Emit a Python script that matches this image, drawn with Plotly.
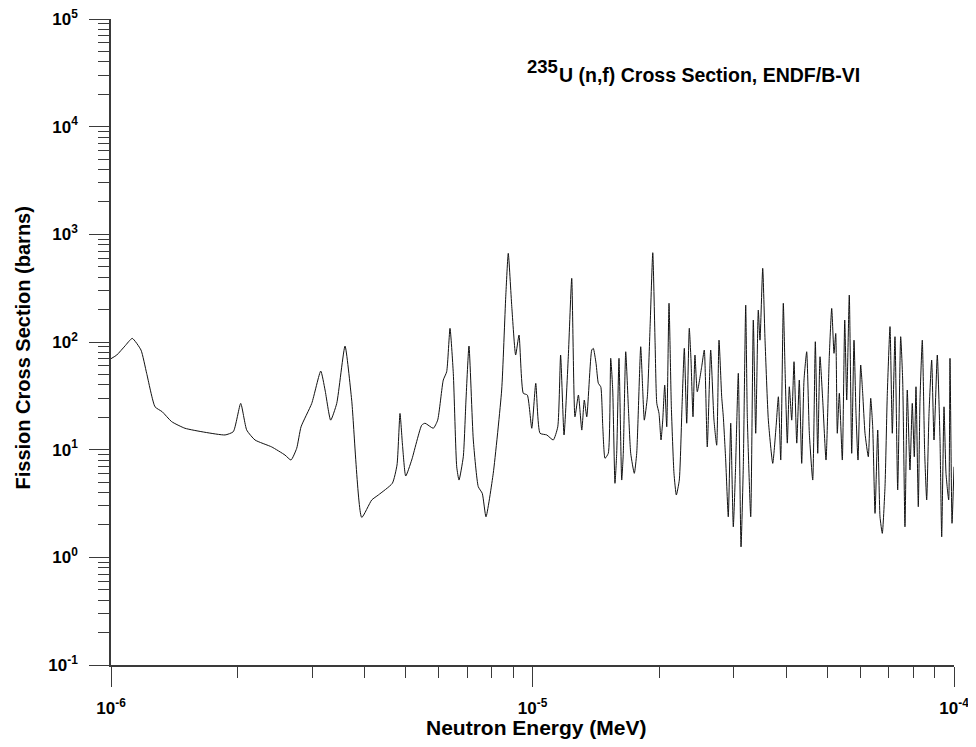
import numpy as np
import plotly.graph_objects as go

# Neutron energy (eV; axis is in MeV)
energy_ev = [
    1.000, 1.032, 1.079, 1.123, 1.178, 1.215, 1.272, 1.323, 1.393, 1.498,
    1.671, 1.865, 1.951, 2.031, 2.099, 2.196, 2.406, 2.587, 2.673, 2.758,
    2.824, 2.994, 3.145, 3.220, 3.320, 3.432, 3.591, 3.724, 3.934, 4.155,
    4.307, 4.650, 4.770, 4.849, 4.916, 5.003, 5.169, 5.460, 5.559, 5.816,
    5.957, 6.142, 6.257, 6.372, 6.488, 6.610, 6.693, 6.852, 6.953, 7.068,
    7.237, 7.436, 7.600, 7.756, 8.07, 8.45, 8.64, 8.76, 8.93, 9.12,
    9.29, 9.51, 9.72, 9.96, 10.18, 10.42, 10.81, 11.20, 11.48, 11.66,
    11.88, 12.16, 12.39, 12.61, 12.85, 13.09, 13.27, 13.45, 13.82, 13.94,
    14.15, 14.33, 14.52, 14.68, 14.86, 15.13, 15.33, 15.50, 15.69, 15.84,
    16.04, 16.28, 16.42, 16.64, 16.88, 17.10, 17.44, 17.67, 18.06, 18.26,
    18.42, 18.73, 19.01, 19.29, 19.53, 19.72, 19.96, 20.18, 20.37, 20.59,
    20.82, 21.08, 21.35, 21.66, 21.94, 22.30, 22.63, 22.92, 23.22, 23.55,
    23.77, 24.03, 24.29, 24.60, 25.20, 25.56, 25.98, 26.47, 26.95, 27.35,
    27.70, 28.11, 28.36, 28.73, 29.14, 29.53, 29.95, 30.31, 30.78, 31.24,
    31.63, 32.05, 32.33, 32.94, 33.41, 33.85, 34.33, 34.65, 35.17, 35.62,
    36.27, 37.15, 37.83, 38.31, 38.81, 39.36, 39.72, 40.23, 40.67, 41.21,
    41.73, 42.36, 42.95, 43.52, 44.07, 44.72, 45.37, 46.22, 46.88, 47.50,
    48.10, 48.81, 49.70, 50.61, 51.27, 51.92, 52.41, 52.86, 53.45, 54.33,
    55.05, 55.65, 56.44, 57.19, 57.91, 58.55, 59.19, 60.07, 60.73, 61.50,
    62.62, 63.45, 64.14, 64.96, 65.92, 66.75, 67.59, 68.60, 69.47, 70.50,
    71.39, 72.44, 73.52, 74.73, 75.55, 76.50, 77.47, 78.62, 79.62, 80.50,
    81.25, 82.28, 83.05, 84.10, 85.21, 86.14, 87.24, 88.52, 89.65, 91.28,
    92.64, 93.50, 94.69, 95.72, 97.14, 97.84, 98.92, 100.0,
]

# Fission cross section (barns)
sigma_b = [
    70, 75.7, 91.7, 108, 84.2, 51.2, 25.0, 22.5, 18.2, 15.8,
    14.5, 13.7, 14.7, 26.9, 15.2, 12.3, 10.6, 8.91, 8.01, 10.3,
    16.3, 26.9, 53.7, 35.8, 18.8, 26.9, 91.7, 28.9, 2.35, 3.41,
    3.79, 4.87, 7.2, 21.7, 11.0, 5.69, 8.01, 16.9, 17.6, 15.8,
    18.8, 44.3, 52.9, 134, 51.2, 6.94, 5.22, 8.6, 28.9, 91.7,
    12.3, 4.53, 3.93, 2.38, 6.03, 35.8, 263, 666, 213, 75.7,
    116, 33.4, 32.2, 15.8, 41.3, 14.2, 13.7, 12.3, 16.3, 75.7,
    13.7, 73, 390, 20.2, 32.2, 15.2, 28.9, 20.2, 84.2, 87.3,
    63.4, 41.3, 38.4, 16.3, 8.31, 9.25, 70.5, 35.8, 4.87, 9.25,
    70.5, 5.22, 9.25, 81.2, 25.0, 9.25, 6.03, 9.25, 90.4, 35.8,
    18.8, 31.0, 139, 675, 104, 26.9, 21.7, 12.3, 18.8, 39.8,
    16.3, 229, 25.0, 6.03, 3.79, 5.22, 25.0, 87.3, 17.6, 134,
    68.0, 20.2, 75.7, 34.5, 58.9, 84.2, 10.6, 84.2, 18.8, 11.0,
    104, 31.0, 20.2, 8.01, 2.38, 17.6, 1.92, 6.47, 51.2, 1.25,
    6.94, 220, 20.2, 2.38, 160, 14.2, 198, 104, 483, 104,
    18.8, 7.46, 16.3, 31.0, 8.01, 229, 58.9, 11.5, 38.4, 18.8,
    65.6, 11.5, 44.3, 7.46, 44.3, 81.2, 14.2, 5.22, 100.6, 9.25,
    73, 28.9, 8.01, 75.7, 205, 78.5, 120, 14.2, 33.4, 8.01,
    160, 28.9, 273, 9.25, 104, 21.7, 8.01, 61.1, 33.4, 14.2,
    8.6, 30.0, 16.3, 2.56, 15.2, 2.38, 1.67, 4.53, 33.4, 139,
    14.2, 112, 4.22, 112, 44.3, 1.92, 35.8, 6.47, 26.9, 8.6,
    38.4, 2.95, 28.9, 104, 9.25, 3.41, 21.7, 68.0, 12.3, 75.7,
    12.3, 1.55, 25.0, 6.03, 3.41, 70.5, 2.07, 6.94,
]

x_tickvals = [1e-6, 1e-5, 1e-4]
x_ticktext = ["10<sup>-6</sup>", "10<sup>-5</sup>", "10<sup>-4</sup>"]
y_tickvals = [1e-1, 1e0, 1e1, 1e2, 1e3, 1e4, 1e5]
y_ticktext = ["10<sup>-1</sup>", "10<sup>0</sup>", "10<sup>1</sup>", "10<sup>2</sup>",
              "10<sup>3</sup>", "10<sup>4</sup>", "10<sup>5</sup>"]

title_iso = "235"
title_main = "U (n,f) Cross Section, ENDF/B-VI"
x_title = "Neutron Energy (MeV)"
y_title = "Fission Cross Section (barns)"

energy_mev = np.array(energy_ev) * 1e-6

FONT = "Liberation Sans, Arial, sans-serif"
AX = "#3a3a3a"

fig = go.Figure()
fig.add_trace(go.Scatter(
    x=energy_mev, y=sigma_b, mode="lines",
    line=dict(color="#111111", width=1, shape="spline", smoothing=0.5),
    showlegend=False, hoverinfo="skip",
))

x_minor = [k * 10.0 ** n for n in (-6, -5) for k in range(2, 10)]
y_minor = [k * 10.0 ** n for n in range(-1, 5) for k in range(2, 10)]

# page body has an 8px margin: figure is 960x731 placed at (8, 8) in the window
fig.update_layout(
    width=960, height=731,
    margin=dict(l=103, r=14, t=11, b=74, autoexpand=False),
    paper_bgcolor="white", plot_bgcolor="white",
    font=dict(family=FONT, color="black"),
    xaxis=dict(
        type="log", range=[-6, -4], automargin=False,
        tickmode="array", tickvals=x_tickvals, ticktext=x_ticktext,
        ticks="outside", ticklen=20, tickwidth=1.3, tickcolor=AX,
        showline=True, linecolor=AX, linewidth=1.5, mirror=False,
        showgrid=False, zeroline=False,
        tickfont=dict(family=FONT, size=17, color="black", weight="bold"),
        ticklabelstandoff=7, ticklabeloverflow="allow",
        minor=dict(tickmode="array", tickvals=x_minor, ticks="outside",
                   ticklen=11, tickwidth=1.2, tickcolor=AX, showgrid=False),
    ),
    yaxis=dict(
        type="log", range=[-1, 5], automargin=False,
        tickmode="array", tickvals=y_tickvals, ticktext=y_ticktext,
        ticks="outside", ticklen=20, tickwidth=1.3, tickcolor=AX,
        showline=True, linecolor=AX, linewidth=1.5, mirror=False,
        showgrid=False, zeroline=False,
        tickfont=dict(family=FONT, size=17, color="black", weight="bold"),
        ticklabelstandoff=8, ticklabeloverflow="allow",
        minor=dict(tickmode="array", tickvals=y_minor, ticks="outside",
                   ticklen=11, tickwidth=1.2, tickcolor=AX, showgrid=False),
    ),
    annotations=[
        dict(text="<b>" + title_iso + "</b>", xref="paper", yref="paper",
             x=(525 - 111) / 843, y=(665 - 67) / 646, xanchor="left", yanchor="middle",
             showarrow=False, font=dict(family=FONT, size=18.5, color="black")),
        dict(text="<b>" + title_main + "</b>", xref="paper", yref="paper",
             x=(557 - 111) / 843, y=(665 - 75) / 646, xanchor="left", yanchor="middle",
             showarrow=False, font=dict(family=FONT, size=19.5, color="black")),
        dict(text="<b>" + x_title + "</b>", xref="paper", yref="paper",
             x=(536.5 - 111) / 843, y=(665 - 741) / 646, xanchor="center", yanchor="bottom",
             showarrow=False, font=dict(family=FONT, size=21, color="black")),
        dict(text="<b>" + y_title + "</b>", xref="paper", yref="paper",
             x=(22 - 111) / 843, y=(665 - 348.5) / 646, xanchor="center", yanchor="middle",
             textangle=-90, showarrow=False, font=dict(family=FONT, size=20, color="black")),
    ],
)

fig.write_html("out.html")
